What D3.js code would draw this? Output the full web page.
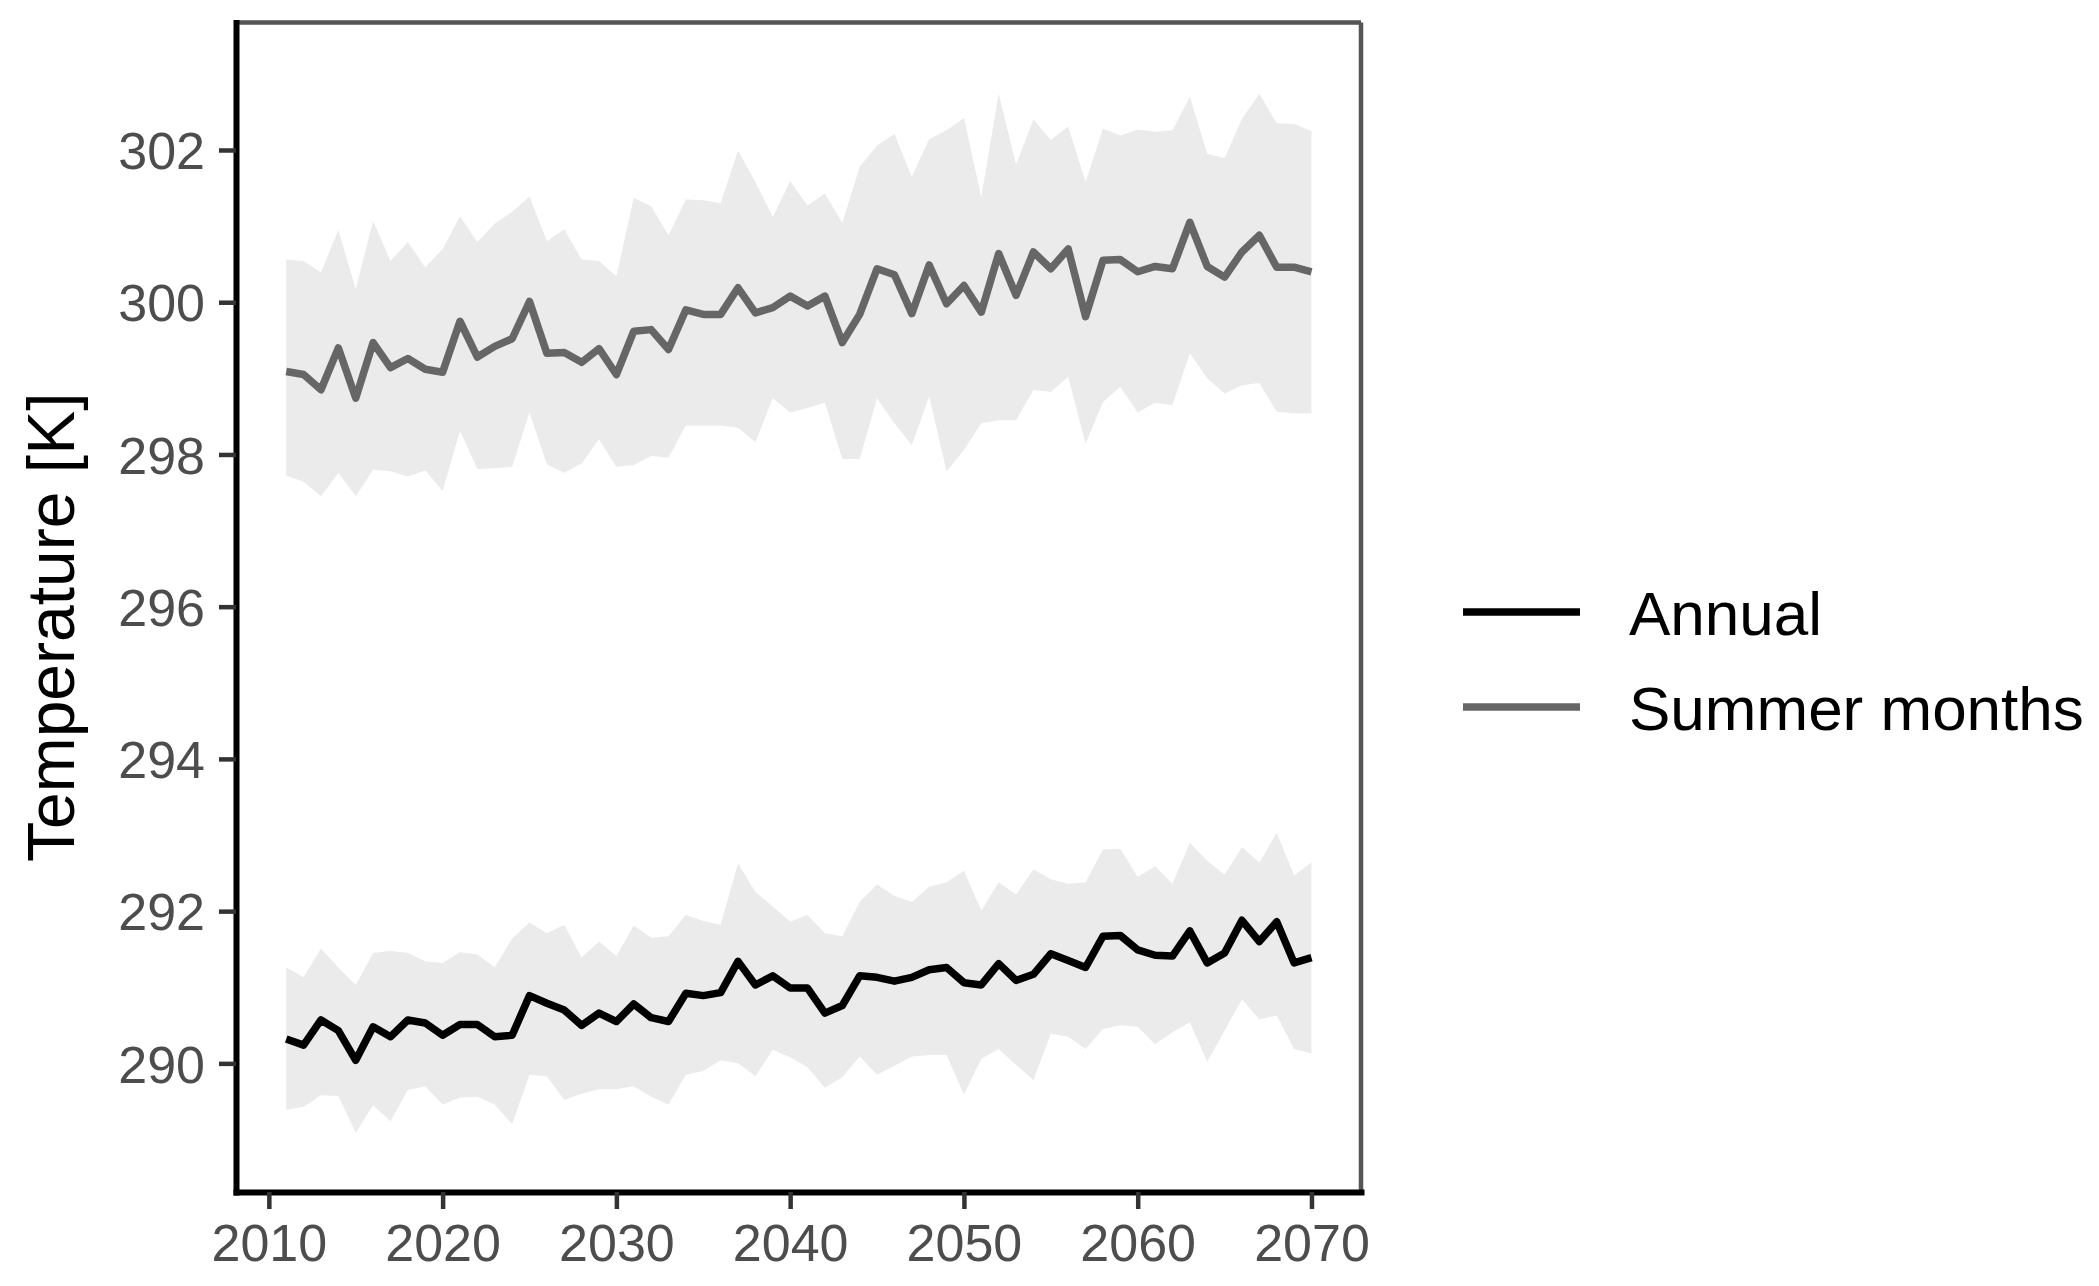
<!DOCTYPE html>
<meta charset="utf-8">

<style type="text/css">
	body {
		margin: 0;
		background: #fff;
	}
	svg {
		font-family: "Liberation Sans", Arial, sans-serif;
	}
	.ribbon {
		fill: #ebebeb;
		stroke: none;
	}
	.annual {
		fill: none;
		stroke: #000;
		stroke-width: 7.5px;
		stroke-linejoin: round;
	}
	.summer {
		fill: none;
		stroke: #666666;
		stroke-width: 7.5px;
		stroke-linejoin: round;
	}
	.axis path {
		stroke: #000;
		stroke-width: 6px;
	}
	.axis line {
		stroke: #333;
		stroke-width: 4.5px;
	}
	.axis text {
		fill: #4d4d4d;
		font-size: 52px;
	}
	.border {
		stroke: #555;
		stroke-width: 4.5px;
	}
	.legend-text {
		font-size: 62px;
		fill: #000;
	}
</style>

<body>
</body>

<script src="https://d3js.org/d3.v7.min.js"></script>

<script>

	// years 2011..2070
	var years = [2011, 2012, 2013, 2014, 2015, 2016, 2017, 2018, 2019, 2020,
		2021, 2022, 2023, 2024, 2025, 2026, 2027, 2028, 2029, 2030,
		2031, 2032, 2033, 2034, 2035, 2036, 2037, 2038, 2039, 2040,
		2041, 2042, 2043, 2044, 2045, 2046, 2047, 2048, 2049, 2050,
		2051, 2052, 2053, 2054, 2055, 2056, 2057, 2058, 2059, 2060,
		2061, 2062, 2063, 2064, 2065, 2066, 2067, 2068, 2069, 2070];

	var summerMean = [299.09, 299.05, 298.85, 299.40, 298.74, 299.47, 299.14, 299.26, 299.12, 299.08,
		299.75, 299.28, 299.42, 299.52, 300.01, 299.33, 299.34, 299.21, 299.39, 299.05,
		299.62, 299.64, 299.38, 299.90, 299.84, 299.84, 300.19, 299.86, 299.93, 300.08,
		299.95, 300.08, 299.47, 299.84, 300.44, 300.36, 299.85, 300.49, 299.98, 300.22,
		299.87, 300.64, 300.09, 300.66, 300.44, 300.70, 299.81, 300.55, 300.56, 300.40,
		300.47, 300.44, 301.05, 300.47, 300.33, 300.66, 300.88, 300.46, 300.46, 300.40];

	var summerHigh = [300.56, 300.54, 300.39, 300.95, 300.17, 301.07, 300.54, 300.79, 300.46, 300.70,
		301.13, 300.79, 301.03, 301.19, 301.39, 300.80, 300.96, 300.56, 300.54, 300.34,
		301.37, 301.26, 300.88, 301.35, 301.34, 301.30, 301.99, 301.58, 301.12, 301.59,
		301.27, 301.43, 301.04, 301.78, 302.06, 302.21, 301.65, 302.14, 302.26, 302.42,
		301.38, 302.74, 301.81, 302.40, 302.13, 302.31, 301.58, 302.28, 302.19, 302.27,
		302.24, 302.26, 302.70, 301.95, 301.89, 302.41, 302.74, 302.35, 302.34, 302.25];

	var summerLow = [297.72, 297.64, 297.45, 297.76, 297.45, 297.80, 297.78, 297.71, 297.79, 297.52,
		298.31, 297.81, 297.82, 297.84, 298.55, 297.87, 297.76, 297.88, 298.20, 297.84,
		297.86, 297.98, 297.96, 298.38, 298.38, 298.38, 298.35, 298.16, 298.74, 298.55,
		298.61, 298.68, 297.94, 297.94, 298.74, 298.41, 298.12, 298.76, 297.78, 298.06,
		298.41, 298.45, 298.45, 298.85, 298.82, 299.02, 298.14, 298.69, 298.89, 298.55,
		298.68, 298.65, 299.33, 299.00, 298.80, 298.91, 298.94, 298.56, 298.54, 298.54];

	var annualMean = [290.32, 290.24, 290.57, 290.43, 290.04, 290.48, 290.35, 290.57, 290.53, 290.37,
		290.51, 290.51, 290.35, 290.37, 290.89, 290.79, 290.70, 290.50, 290.66, 290.55,
		290.78, 290.60, 290.55, 290.92, 290.89, 290.93, 291.34, 291.03, 291.15, 290.99,
		290.99, 290.66, 290.76, 291.15, 291.13, 291.08, 291.13, 291.23, 291.26, 291.06,
		291.03, 291.31, 291.09, 291.17, 291.44, 291.35, 291.26, 291.67, 291.68, 291.49,
		291.42, 291.41, 291.74, 291.32, 291.45, 291.88, 291.60, 291.86, 291.32, 291.39];

	var annualHigh = [291.26, 291.13, 291.51, 291.26, 291.03, 291.45, 291.48, 291.45, 291.34, 291.32,
		291.46, 291.43, 291.26, 291.64, 291.85, 291.71, 291.82, 291.39, 291.60, 291.41,
		291.81, 291.65, 291.67, 291.95, 291.87, 291.82, 292.63, 292.25, 292.06, 291.86,
		291.95, 291.71, 291.67, 292.12, 292.35, 292.20, 292.12, 292.32, 292.38, 292.53,
		292.01, 292.38, 292.22, 292.55, 292.42, 292.36, 292.38, 292.81, 292.82, 292.45,
		292.59, 292.36, 292.90, 292.66, 292.48, 292.84, 292.64, 293.03, 292.47, 292.64];

	var annualLow = [289.39, 289.43, 289.58, 289.57, 289.09, 289.45, 289.24, 289.65, 289.70, 289.46,
		289.55, 289.56, 289.46, 289.20, 289.85, 289.83, 289.52, 289.60, 289.66, 289.66,
		289.70, 289.56, 289.46, 289.85, 289.90, 290.04, 290.00, 289.83, 290.18, 290.08,
		289.95, 289.68, 289.82, 290.09, 289.85, 289.97, 290.09, 290.11, 290.11, 289.59,
		290.06, 290.19, 289.98, 289.78, 290.39, 290.35, 290.19, 290.45, 290.50, 290.48,
		290.25, 290.41, 290.54, 290.02, 290.43, 290.84, 290.58, 290.63, 290.19, 290.13];

	var xTicks = [2010, 2020, 2030, 2040, 2050, 2060, 2070];
	var yTicks = [290, 292, 294, 296, 298, 300, 302];

	var seriesNames = ["Annual", "Summer months"];
	var seriesClass = ["annual", "summer"];

	var W = 2099, H = 1286;
	var panel = {left: 236, right: 1361, top: 22.5, bottom: 1192};

	var summer = years.map(function(y, i) {
		return {year: y, mean: summerMean[i], lo: summerLow[i], hi: summerHigh[i]};
	});
	var annual = years.map(function(y, i) {
		return {year: y, mean: annualMean[i], lo: annualLow[i], hi: annualHigh[i]};
	});

	var xScale = d3.scaleLinear()
		.domain([2008.11, 2072.85])
		.range([panel.left, panel.right]);

	var yScale = d3.scaleLinear()
		.domain([288.31, 303.675])
		.range([panel.bottom, panel.top]);

	var svg = d3.select("body").append("svg")
		.attr("width", W)
		.attr("height", H);

	svg.append("rect")
		.attr("width", W)
		.attr("height", H)
		.attr("fill", "#fff");

	var area = d3.area()
		.x(function(d) { return xScale(d.year); })
		.y0(function(d) { return yScale(d.lo); })
		.y1(function(d) { return yScale(d.hi); });

	var line = d3.line()
		.x(function(d) { return xScale(d.year); })
		.y(function(d) { return yScale(d.mean); });

	// ribbons first, then lines on top
	svg.append("path").datum(annual).attr("class", "ribbon").attr("d", area);
	svg.append("path").datum(summer).attr("class", "ribbon").attr("d", area);

	svg.append("path").datum(summer).attr("class", "summer").attr("d", line);
	svg.append("path").datum(annual).attr("class", "annual").attr("d", line);

	// top + right border (grey)
	svg.append("line")
		.attr("class", "border")
		.attr("x1", panel.left).attr("x2", panel.right)
		.attr("y1", panel.top).attr("y2", panel.top);
	svg.append("line")
		.attr("class", "border")
		.attr("x1", panel.right).attr("x2", panel.right)
		.attr("y1", panel.top).attr("y2", panel.bottom);

	var x_axis = d3.axisBottom(xScale)
		.tickValues(xTicks)
		.tickFormat(d3.format("d"))
		.tickSizeInner(17)
		.tickSizeOuter(0)
		.tickPadding(12);

	var y_axis = d3.axisLeft(yScale)
		.tickValues(yTicks)
		.tickFormat(d3.format("d"))
		.tickSizeInner(17)
		.tickSizeOuter(0)
		.tickPadding(14);

	var gx = svg.append("g")
		.attr("class", "x axis")
		.attr("transform", "translate(0," + panel.bottom + ")")
		.call(x_axis);
	gx.selectAll("text").attr("dy", "0.71em").attr("y", 32);

	var gy = svg.append("g")
		.attr("class", "y axis")
		.attr("transform", "translate(" + panel.left + ",0)")
		.call(y_axis);
	gy.selectAll("text").attr("dy", "0.36em");

	svg.selectAll(".axis path").attr("stroke-linecap", "square");

	// y title
	svg.append("text")
		.attr("transform", "translate(74," + ((panel.top + panel.bottom) / 2 + 20) + ") rotate(-90)")
		.attr("text-anchor", "middle")
		.style("font-size", "66px")
		.style("fill", "#000")
		.text("Temperature [K]");

	// legend
	var legendY = [612, 707];
	var legend = svg.selectAll(".legend")
		.data(seriesNames)
		.enter()
		.append("g")
		.attr("class", "legend")
		.attr("transform", function(d, i) { return "translate(1463," + legendY[i] + ")"; });

	legend.append("line")
		.attr("class", function(d, i) { return seriesClass[i]; })
		.attr("x1", 0).attr("x2", 117)
		.attr("y1", 0).attr("y2", 0);

	legend.append("text")
		.attr("class", "legend-text")
		.attr("x", 166)
		.attr("y", 23)
		.text(function(d) { return d; });

</script>
